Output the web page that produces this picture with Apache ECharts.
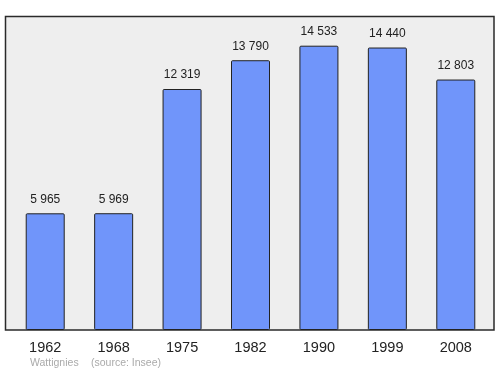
<!DOCTYPE html>
<html>
<head>
<meta charset="utf-8">
<script src="https://cdn.jsdelivr.net/npm/echarts@6/dist/echarts.min.js"></script>
<style>html,body{margin:0;padding:0;background:#fff}#c{width:500px;height:374px}</style>
</head>
<body>
<div id="c"></div>
<script>
const years = ['1962', '1968', '1975', '1982', '1990', '1999', '2008'];
const population = [5965, 5969, 12319, 13790, 14533, 14440, 12803];
const commune = 'Wattignies';
const source = '(source: Insee)';

const fmt = v => String(v).replace(/\B(?=(\d{3})+(?!\d))/g, ' ');

const chart = echarts.init(document.getElementById('c'), null, {renderer: 'canvas'});
chart.setOption({
  animation: false,
  textStyle: {fontFamily: 'Liberation Sans, Arial, sans-serif'},
  graphic: [
    {type: 'rect', z: -10, silent: true,
     shape: {x: 5.5, y: 16.5, width: 488.5, height: 313.5},
     style: {fill: '#eeeeee', stroke: '#2a2a2a', lineWidth: 1.5}},
    {type: 'text', left: 30, top: 358,
     style: {text: commune, fill: '#aaaaaa', font: '10.5px Liberation Sans, Arial, sans-serif'}},
    {type: 'text', left: 91, top: 358,
     style: {text: source, fill: '#aaaaaa', font: '10.5px Liberation Sans, Arial, sans-serif'}}
  ],
  grid: {left: 11, width: 479, top: 17, bottom: 44, containLabel: false},
  xAxis: {
    type: 'category', data: years,
    axisLine: {show: false}, axisTick: {show: false},
    axisLabel: {color: '#222', fontSize: 14.5, margin: 10}
  },
  yAxis: {type: 'value', min: 0, max: 16000, show: false, splitLine: {show: false}},
  series: [{
    type: 'bar', data: population, barWidth: 39,
    itemStyle: {color: '#7095fa', borderColor: '#222', borderWidth: 1, borderRadius: 1},
    label: {show: true, position: 'top', distance: 8, color: '#222', fontSize: 12,
            formatter: p => fmt(p.value)}
  }]
});
</script>
</body>
</html>
